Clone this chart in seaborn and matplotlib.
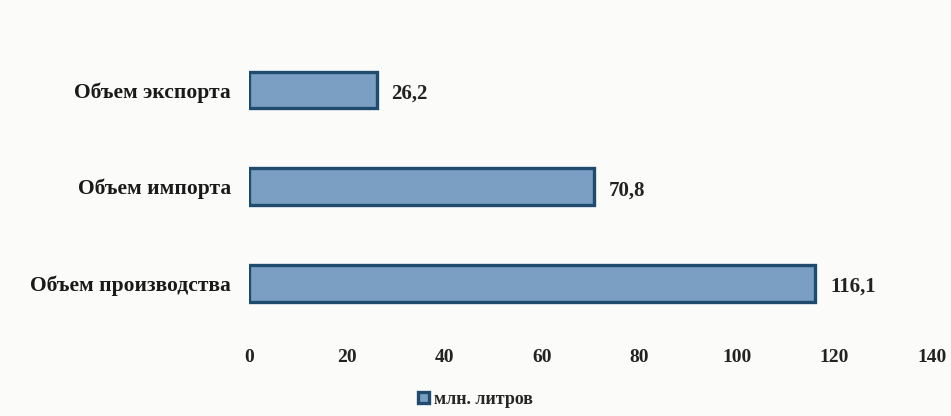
import pandas as pd
import matplotlib.pyplot as plt
import seaborn as sns

categories = ['Объем экспорта', 'Объем импорта', 'Объем производства']
values = [26.2, 70.8, 116.1]
value_labels = ['26,2', '70,8', '116,1']
unit = 'млн. литров'
x_ticks = [0, 20, 40, 60, 80, 100, 120, 140]

df = pd.DataFrame({'Показатель': categories, 'Значение': values, 'Ед.': unit})

sns.set_style('white')
plt.rcParams['font.family'] = ['Liberation Serif', 'DejaVu Serif']
plt.rcParams['font.weight'] = 'bold'

fig = plt.figure(figsize=(9.51, 4.16), dpi=100)
fig.patch.set_facecolor('#fbfbfa')
ax = fig.add_axes([0.262, 0.18, 0.718, 0.743])
ax.set_facecolor('#fbfbfa')

sns.barplot(data=df, y='Показатель', x='Значение', hue='Ед.', orient='h',
            palette=['#7a9fc2'], saturation=1, edgecolor='#1f4c6e',
            linewidth=2.4, width=0.38, ax=ax)

for i, (v, lab) in enumerate(zip(values, value_labels)):
    ax.text(v + 3, i + 0.04, lab, va='center', ha='left', fontsize=15,
            fontweight='bold', color='#222222')

ax.set_xlim(0, 140)
ax.set_ylim(2.6, -0.6)
ax.set_xticks(x_ticks)
ax.set_xticklabels([str(t) for t in x_ticks], fontsize=14, fontweight='bold', color='#222222')
ax.tick_params(axis='x', length=0, pad=6)
ax.tick_params(axis='y', length=0, pad=13)
for t in ax.get_yticklabels():
    t.set_fontsize(15.5)
    t.set_fontweight('bold')
    t.set_color('#1a1a1a')
ax.set_xlabel('')
ax.set_ylabel('')
sns.despine(ax=ax, left=True, bottom=True)

handles, labels = ax.get_legend_handles_labels()
ax.get_legend().remove()
fig.legend(handles, labels, loc='center', bbox_to_anchor=(0.5, 0.04),
           frameon=False, handlelength=0.6, handleheight=0.6, handletextpad=0.3,
           prop={'size': 13, 'weight': 'bold'})

fig.savefig('out.png', dpi=100, facecolor=fig.get_facecolor())
